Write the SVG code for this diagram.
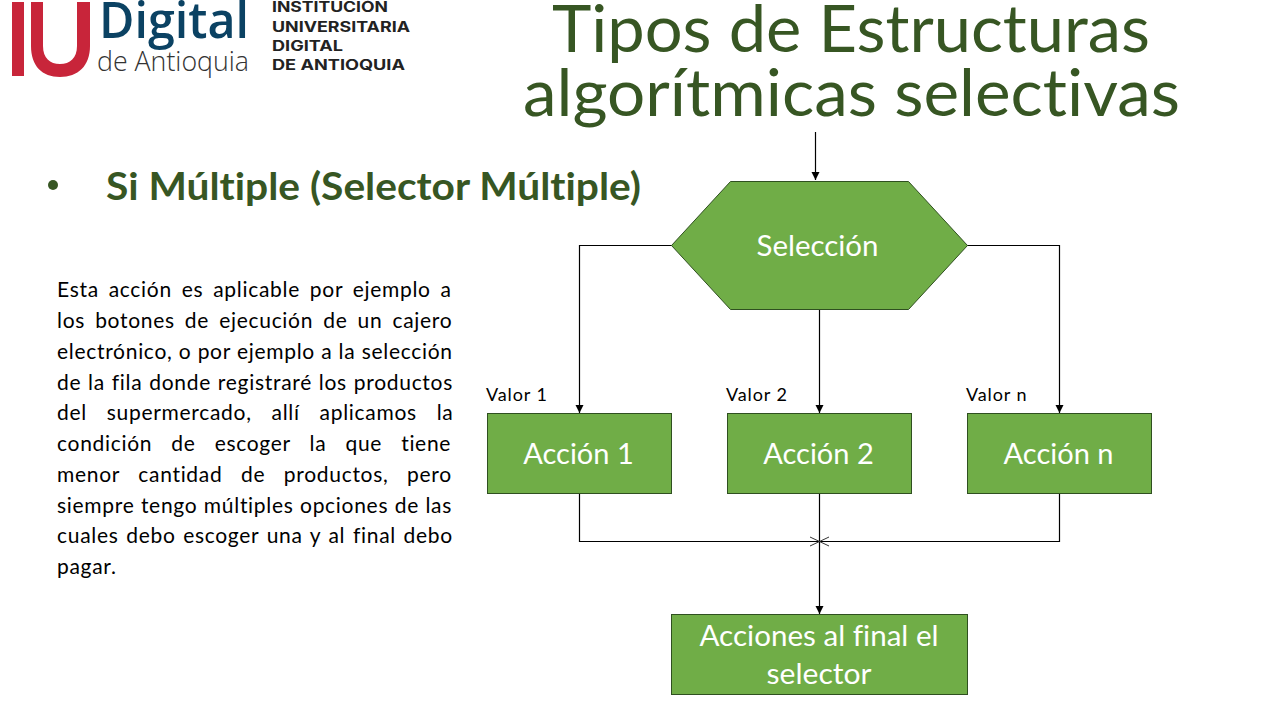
<svg xmlns="http://www.w3.org/2000/svg" width="1280" height="720" viewBox="0 0 1280 720">
<style>
text{font-family:"Lato","Liberation Sans",sans-serif;font-variant-ligatures:none}
.title{font-size:65px;fill:#375623}
.node{fill:#70ad47;stroke:#2f5020;stroke-width:1}
.nl{font-size:29px;fill:#fff;text-anchor:middle}
.body{font-size:21px;fill:#000;letter-spacing:.7px}
.val{font-size:18px;fill:#000;letter-spacing:.9px}
.c{fill:none;stroke:#000;stroke-width:1.2}
.li{font-family:"Inter","Liberation Sans",sans-serif;font-weight:700;font-size:14px;fill:#222}
</style>
<defs><marker id="a" markerUnits="userSpaceOnUse" markerWidth="9" markerHeight="9" refX="8" refY="4" orient="auto"><path d="M0 0L8 4L0 8Z" fill="#000"/></marker></defs>
<g id="logo">
<path d="M12 2H24V76H12ZM31 2H43V46C43 58 50 64 60 64C70 64 77 58 77 46V2H90V46C90 66 78 77 60 77C42 77 31 66 31 46Z" fill="#c8253a"/>
<text x="99" y="38" font-size="50" font-weight="600" fill="#0b4263" style="font-family:'Open Sans',sans-serif" textLength="150" lengthAdjust="spacingAndGlyphs">Digital</text>
<text x="97" y="71" font-size="27" font-weight="300" fill="#333" style="font-family:'Open Sans',sans-serif" textLength="152" lengthAdjust="spacingAndGlyphs">de Antioquia</text>
<text class="li" x="272" y="12" textLength="116" lengthAdjust="spacingAndGlyphs">INSTITUCIÓN</text>
<text class="li" x="272" y="32" textLength="138" lengthAdjust="spacingAndGlyphs">UNIVERSITARIA</text>
<text class="li" x="272" y="51" textLength="71" lengthAdjust="spacingAndGlyphs">DIGITAL</text>
<text class="li" x="272" y="70" textLength="133" lengthAdjust="spacingAndGlyphs">DE ANTIOQUIA</text>
</g>
<g id="title">
<text class="title" x="552" y="52" textLength="598" lengthAdjust="spacingAndGlyphs">Tipos de Estructuras</text>
<text class="title" x="523" y="116" textLength="657" lengthAdjust="spacingAndGlyphs">algorítmicas selectivas</text>
</g>
<g id="subtitle">
<circle cx="53" cy="185" r="5" fill="#375623"/>
<text x="106" y="200" font-size="38" font-weight="700" fill="#375623" textLength="535" lengthAdjust="spacingAndGlyphs">Si Múltiple (Selector Múltiple)</text>
</g>
<g id="description">
<text class="body" x="57" y="297" word-spacing="3.8">Esta acción es aplicable por ejemplo a</text>
<text class="body" x="57" y="328" word-spacing="4">los botones de ejecución de un cajero</text>
<text class="body" x="57" y="359" word-spacing=".2">electrónico, o por ejemplo a la selección</text>
<text class="body" x="57" y="390" word-spacing=".8">de la fila donde registraré los productos</text>
<text class="body" x="57" y="420" word-spacing="13.8">del supermercado, allí aplicamos la</text>
<text class="body" x="57" y="451" word-spacing="13">condición de escoger la que tiene</text>
<text class="body" x="57" y="482" word-spacing="12.5">menor cantidad de productos, pero</text>
<text class="body" x="57" y="513" word-spacing=".4">siempre tengo múltiples opciones de las</text>
<text class="body" x="57" y="543" word-spacing="1.6">cuales debo escoger una y al final debo</text>
<text class="body" x="57" y="574">pagar.</text>
</g>
<g id="connectors">
<path class="c" d="M815.500 132V180" marker-end="url(#a)"/>
<path class="c" d="M672 245.500H579.500V413" marker-end="url(#a)"/>
<path class="c" d="M819.500 309V413" marker-end="url(#a)"/>
<path class="c" d="M967 245.500H1059.500V413" marker-end="url(#a)"/>
<path class="c" d="M579.500 493V541.500H819"/>
<path class="c" d="M1059.500 493V541.500H820"/>
<path class="c" d="M819.500 493V614" marker-end="url(#a)"/>
<path d="M810 537L829 546M810 546L829 537" stroke="#333" stroke-width="1" fill="none"/>
</g>
<g id="seleccion"><path class="node" d="M730.500 181.500H908.500L967.500 245.500L908.500 309.500H730.500L671.500 245.500Z"/><text class="nl" x="817.500" y="256" textLength="122" lengthAdjust="spacingAndGlyphs">Selección</text></g>
<g id="accion1"><rect class="node" x="487.500" y="413.500" width="184" height="80"/><text class="nl" x="578.500" y="464">Acción 1</text></g>
<g id="accion2"><rect class="node" x="727.500" y="413.500" width="184" height="80"/><text class="nl" x="818.500" y="464">Acción 2</text></g>
<g id="accionn"><rect class="node" x="967.500" y="413.500" width="184" height="80"/><text class="nl" x="1058.500" y="464">Acción n</text></g>
<g id="final"><rect class="node" x="671.500" y="614.500" width="296" height="80"/><text class="nl" x="819" y="646" textLength="239" lengthAdjust="spacingAndGlyphs">Acciones al final el</text><text class="nl" x="819" y="684" textLength="105" lengthAdjust="spacingAndGlyphs">selector</text></g>
<g id="labels">
<text class="val" x="486" y="401">Valor 1</text>
<text class="val" x="726" y="401">Valor 2</text>
<text class="val" x="966" y="401">Valor n</text>
</g>
</svg>
